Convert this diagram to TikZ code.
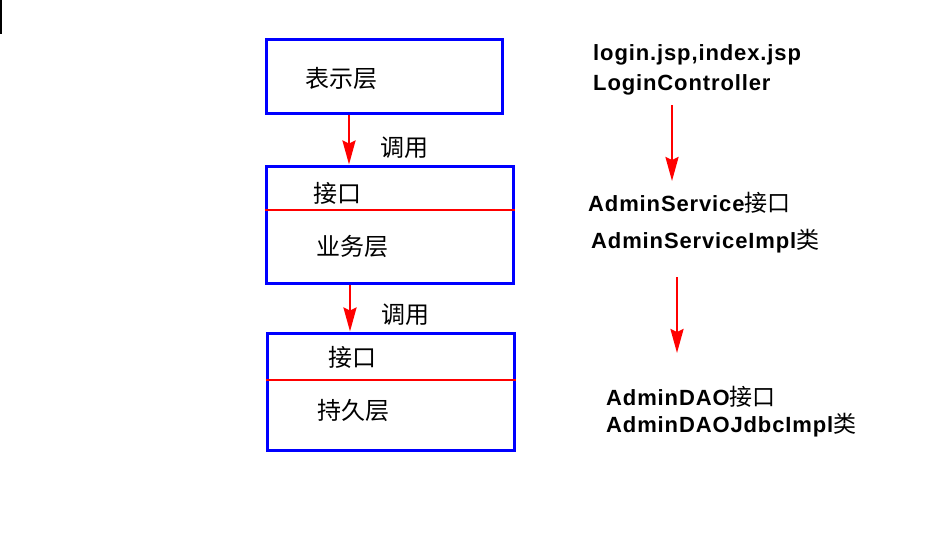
\documentclass[tikz,border=0pt]{standalone}
\usepackage{fontspec}
\usetikzlibrary{arrows.meta}
\newfontfamily\cjk{Noto Sans CJK SC}
\newfontfamily\enb{Liberation Sans}[LetterSpace=4]
\definecolor{myblue}{RGB}{0,0,255}
\definecolor{myred}{RGB}{255,0,0}
\newcommand{\cn}[1]{{\cjk\mdseries\fontsize{23}{27}\selectfont #1}}
\begin{document}
\begin{tikzpicture}[x=1pt,y=-1pt,
  box/.style={draw=myblue, line width=3pt, inner sep=0pt, minimum width=247pt, minimum height=117pt},
  divider/.style={draw=myred, line width=2pt},
  arr/.style={draw=myred, line width=2.6pt, -{Stealth[length=24pt,width=13pt,inset=3pt]}},
  cnlabel/.style={inner sep=0pt, font=\cjk\fontsize{24}{28}\selectfont},
  entext/.style={inner sep=0pt, anchor=base west, font=\enb\bfseries\fontsize{22}{26}\selectfont}
]
\useasboundingbox (0,0) rectangle (929,555);
\draw[line width=2pt] (1,0) -- (1,34);

% boxes
\node[draw=myblue, line width=3pt, inner sep=0pt, minimum width=236pt, minimum height=74pt] (b1) at (384,76) {};
\node[box] (b2) at (389.5,224.5) {};
\node[box] (b3) at (390.5,391.5) {};

\coordinate (d2) at (0,210);
\coordinate (d3) at (0,380);
\draw[divider] (b2.west |- d2) -- (b2.east |- d2);
\draw[divider] (b3.west |- d3) -- (b3.east |- d3);

\node[cnlabel] (l1) at (341,78) {表示层};
\node[cnlabel] (l2a) at (337,193) {接口};
\node[cnlabel] (l2b) at (352,246) {业务层};
\node[cnlabel] (l3a) at (352,357) {接口};
\node[cnlabel] (l3b) at (353,410) {持久层};

% left arrows
\coordinate (x1) at (349,0);
\coordinate (x2) at (350,0);
\draw[arr] (b1.south -| x1) -- (b2.north -| x1);
\draw[arr] (b2.south -| x2) -- (b3.north -| x2);
\node[cnlabel] (c1) at (404,148) {调用};
\node[cnlabel] (c2) at (405,315) {调用};

% right texts
\node[entext] (t1) at (593,60) {login.jsp,index.jsp};
\node[entext] (t2) at (593,90) {LoginController};
\node[entext] (t3) at (588,211) {AdminService\cn{接口}};
\node[entext] (t4) at (591,248) {AdminServiceImpl\cn{类}};
\node[entext] (t5) at (606,405) {AdminDAO\cn{接口}};
\node[entext] (t6) at (606,432) {AdminDAOJdbcImpl\cn{类}};

% right arrows
\coordinate (a1s) at (672,105);
\coordinate (a1e) at (672,181);
\coordinate (a2s) at (677,277);
\coordinate (a2e) at (677,353);
\draw[arr] (a1s) -- (a1e);
\draw[arr] (a2s) -- (a2e);
\end{tikzpicture}
\end{document}
